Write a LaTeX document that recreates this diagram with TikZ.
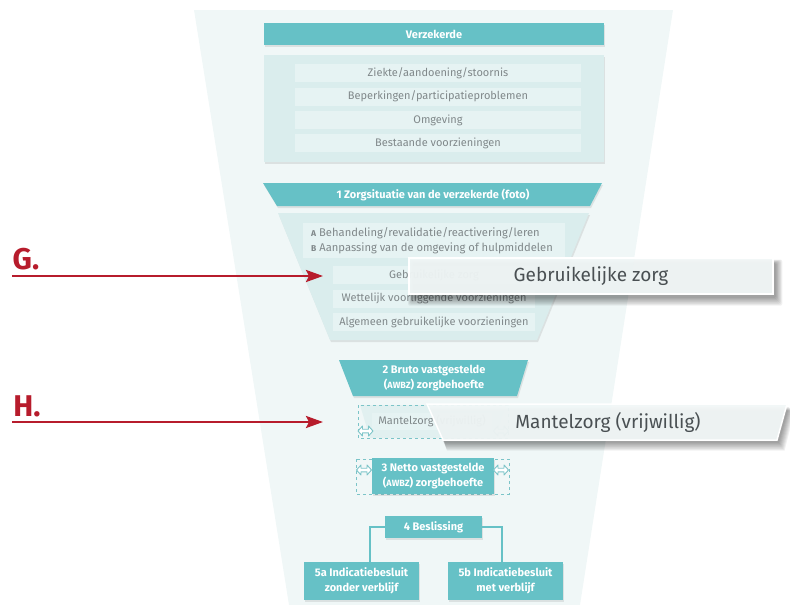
\documentclass[tikz,border=0pt]{standalone}
\usepackage{fontspec}
\setmainfont{Fira Sans}
\usetikzlibrary{shadows,arrows.meta}
\definecolor{funnelbg}{HTML}{F0F7F7}
\definecolor{panelc}{HTML}{DAEDED}
\definecolor{rowc}{HTML}{E6F3F3}
\definecolor{tealc}{HTML}{66C1C6}
\definecolor{graytxt}{HTML}{80888A}
\definecolor{darktxt}{HTML}{4A5053}
\definecolor{popc}{HTML}{F1F7F7}
\definecolor{redc}{HTML}{B71C2C}
\definecolor{dashc}{HTML}{7CC4C8}
\begin{document}
\begin{tikzpicture}[x=1pt,y=-1pt,
  softshadow/.style={drop shadow={shadow xshift=1pt,shadow yshift=-2pt,opacity=0.15,fill=black!60}},
  tealbox/.style={fill=tealc,text=white,font=\fontsize{11}{15}\selectfont\bfseries,inner sep=0pt,softshadow},
  tealtext/.style={text=white,font=\fontsize{11}{15}\selectfont\bfseries,inner sep=0pt,align=center},
  rowbox/.style={fill=rowc,text=graytxt,font=\fontsize{11}{13}\selectfont,inner sep=0pt,minimum height=18pt},
  popup/.style={fill=popc,fill opacity=0.95,text opacity=1,draw=white,line width=1.5pt,text=darktxt,font=\fontsize{19}{22}\selectfont,inner sep=0pt},
  popuptext/.style={text=darktxt,font=\fontsize{19}{22}\selectfont,inner sep=0pt},
  blurlayer/.style={fill=black,opacity=0.055},
  dashbox/.style={draw=dashc,dashed,line width=0.5pt},
  dblarr/.pic={\filldraw[fill=white,draw=dashc,line width=0.9pt,line join=round] (-7.5,0) -- (-3,-5) -- (-3,-1.8) -- (3,-1.8) -- (3,-5) -- (7.5,0) -- (3,5) -- (3,1.8) -- (-3,1.8) -- (-3,5) -- cycle;},
  conn/.style={draw=tealc,line width=2pt},
  redarrow/.style={draw=redc,line width=2.5pt,-{Stealth[length=17pt,width=12pt,inset=3pt]}},
  redlabel/.style={text=redc,font=\fontsize{30}{32}\selectfont\bfseries,inner sep=0pt}
]
\useasboundingbox (0,0) rectangle (790,605);
% background funnel
\fill[funnelbg] (194,10) -- (673,10) -- (580,605) -- (289,605) -- cycle;

% Verzekerde
\node[tealbox,minimum width=340pt,minimum height=22pt] (verz) at (434,34) {Verzekerde};
\node[fill=panelc,softshadow,minimum width=340pt,minimum height=107pt,inner sep=0pt] (panel) at (434,108.5) {};
\node[rowbox,minimum width=286pt] (r1) at (438,73) {Ziekte/aandoening/stoornis};
\node[rowbox,minimum width=286pt] (r2) at (438,96.5) {Beperkingen/participatieproblemen};
\node[rowbox,minimum width=286pt] (r3) at (438,120) {Omgeving};
\node[rowbox,minimum width=286pt] (r4) at (438,143) {Bestaande voorzieningen};

% 1 Zorgsituatie
\fill[tealc,softshadow] (263,183) -- (602,183) -- (590,206) -- (277,206) -- cycle;
\node[tealtext] (zorg) at (433,194.5) {1 Zorgsituatie van de verzekerde (foto)};
\fill[panelc,softshadow] (278,213) -- (589,213) -- (537,340) -- (330,340) -- cycle;
\node[fill=rowc,minimum width=262pt,minimum height=35pt,inner sep=0pt] (ab) at (434,240.5) {};
\node[text=graytxt,font=\fontsize{11.2}{14.5}\selectfont,align=left,inner sep=0pt,anchor=west] (abt) at (311,240.5)
  {{\fontsize{8.5}{9}\selectfont\bfseries A} Behandeling/revalidatie/reactivering/leren\\
   {\fontsize{8.5}{9}\selectfont\bfseries B} Aanpassing van de omgeving of hulpmiddelen};
\node[rowbox,minimum width=202pt] (gz) at (434,275) {Gebruikelijke zorg};
\node[rowbox,minimum width=202pt] (wv) at (434,298.5) {Wettelijk voorliggende voorzieningen};
\node[rowbox,minimum width=202pt] (av) at (434,322) {Algemeen gebruikelijke voorzieningen};

% 2 Bruto
\fill[tealc,softshadow] (339,360) -- (528,360) -- (517,396) -- (353,396) -- cycle;
\node[tealtext] (bruto) at (434,378)
  {2 Bruto vastgestelde\\({\fontsize{9}{9}\selectfont AWBZ}) zorgbehoefte};

% Mantelzorg
\fill[panelc!70!funnelbg] (360,405) -- (506,405) -- (496,438) -- (370,438) -- cycle;
\draw[dashbox] (358,405) rectangle (508,438);
\node[rowbox,minimum width=120pt,minimum height=17pt] (mz) at (432,421.5) {Mantelzorg (vrijwillig)};
\pic at (365.5,431) {dblarr};
\pic at (501,431) {dblarr};

% 3 Netto
\draw[dashbox] (356,459) rectangle (509,494);
\node[tealbox,minimum width=122pt,minimum height=36pt,align=center] (netto) at (433,476)
  {3 Netto vastgestelde\\({\fontsize{9}{9}\selectfont AWBZ}) zorgbehoefte};
\pic at (364,470) {dblarr};
\pic at (501,470) {dblarr};

% 4 Beslissing and 5a/5b
\node[tealbox,minimum width=97pt,minimum height=22pt] (besl) at (433.5,527) {4 Beslissing};
\node[tealbox,minimum width=115pt,minimum height=38pt,align=center] (v5a) at (361.5,581) {5a Indicatiebesluit\\zonder verblijf};
\node[tealbox,minimum width=115pt,minimum height=38pt,align=center] (v5b) at (505.5,581) {5b Indicatiebesluit\\met verblijf};
\draw[conn] (besl.west) -| ([xshift=8.5pt]v5a.north);
\draw[conn] (besl.east) -| ([xshift=-3.5pt]v5b.north);

% popup G with soft shadow
\foreach \k in {0,...,7}{
  \fill[blurlayer,rounded corners=2pt] ({410+3-\k*0.7},{259+4-\k*0.5}) rectangle ({773+3+\k*0.9},{294+4+\k*1.1});
}
\node[popup,minimum width=364pt,minimum height=36pt] (popg) at (591,276) {Gebruikelijke zorg};
% popup H with soft shadow
\foreach \k in {0,...,7}{
  \fill[blurlayer] ({427+2+\k*0.3},{404+3+\k*0.5}) -- ({787+2+\k*0.8},{404+3+\k*0.5}) -- ({777+2+\k*0.8},{440+3+\k*1.1}) -- ({443+2+\k*0.3},{440+3+\k*1.1}) -- cycle;
}
\filldraw[fill=popc,fill opacity=0.95,draw=white,line width=1.5pt] (427,404) -- (787,404) -- (777,440) -- (443,440) -- cycle;
\node[popuptext] (poph) at (608,422) {Mantelzorg (vrijwillig)};

% red labels and arrows
\node[redlabel] (glab) at (26,259) {G.};
\node[redlabel] (hlab) at (27,406) {H.};
\coordinate (gs) at (12,276); \coordinate (ge) at (323,276);
\coordinate (hs) at (12,422); \coordinate (he) at (323,422);
\draw[redarrow] (gs) -- (ge);
\draw[redarrow] (hs) -- (he);
\end{tikzpicture}
\end{document}
